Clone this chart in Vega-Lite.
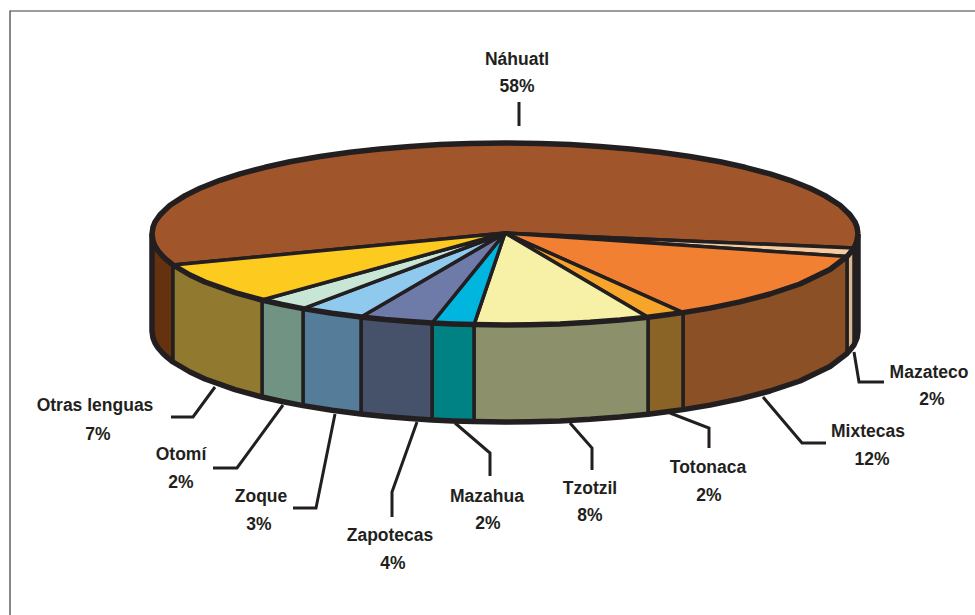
{"$schema":"https://vega.github.io/schema/vega-lite/v6.json","width":975,"height":615,"autosize":{"type":"none"},"padding":0,"background":"#ffffff","view":{"stroke":null},
"datasets":{
"formas":[
{"p":"Náhuatl lateral izq","i":0,"x":152,"y":234},{"p":"Náhuatl lateral izq","i":1,"x":155,"y":246},{"p":"Náhuatl lateral izq","i":2,"x":163,"y":256.5},{"p":"Náhuatl lateral izq","i":3,"x":173,"y":265},{"p":"Náhuatl lateral izq","i":4,"x":173,"y":362},{"p":"Náhuatl lateral izq","i":5,"x":163,"y":353.5},{"p":"Náhuatl lateral izq","i":6,"x":155,"y":343},{"p":"Náhuatl lateral izq","i":7,"x":152,"y":331},{"p":"Náhuatl lateral izq","i":8,"x":152,"y":234},
{"p":"Náhuatl lateral der","i":0,"x":858,"y":234},{"p":"Náhuatl lateral der","i":1,"x":854,"y":248},{"p":"Náhuatl lateral der","i":2,"x":854,"y":345},{"p":"Náhuatl lateral der","i":3,"x":858,"y":331},{"p":"Náhuatl lateral der","i":4,"x":858,"y":234},
{"p":"Mazateco lateral","i":0,"x":854,"y":248},{"p":"Mazateco lateral","i":1,"x":850,"y":253},{"p":"Mazateco lateral","i":2,"x":847,"y":256.5},{"p":"Mazateco lateral","i":3,"x":847,"y":353.5},{"p":"Mazateco lateral","i":4,"x":850,"y":350},{"p":"Mazateco lateral","i":5,"x":854,"y":345},{"p":"Mazateco lateral","i":6,"x":854,"y":248},
{"p":"Mixtecas lateral","i":0,"x":847,"y":256.5},{"p":"Mixtecas lateral","i":1,"x":830,"y":269.5},{"p":"Mixtecas lateral","i":2,"x":800,"y":284},{"p":"Mixtecas lateral","i":3,"x":770,"y":294},{"p":"Mixtecas lateral","i":4,"x":740,"y":301.9},{"p":"Mixtecas lateral","i":5,"x":710,"y":308.1},{"p":"Mixtecas lateral","i":6,"x":683,"y":312.6},{"p":"Mixtecas lateral","i":7,"x":683,"y":409.6},{"p":"Mixtecas lateral","i":8,"x":710,"y":405.1},{"p":"Mixtecas lateral","i":9,"x":740,"y":398.9},{"p":"Mixtecas lateral","i":10,"x":770,"y":391},{"p":"Mixtecas lateral","i":11,"x":800,"y":381},{"p":"Mixtecas lateral","i":12,"x":830,"y":366.5},{"p":"Mixtecas lateral","i":13,"x":847,"y":353.5},{"p":"Mixtecas lateral","i":14,"x":847,"y":256.5},
{"p":"Totonaca lateral","i":0,"x":683,"y":312.6},{"p":"Totonaca lateral","i":1,"x":665,"y":315.1},{"p":"Totonaca lateral","i":2,"x":648,"y":317.2},{"p":"Totonaca lateral","i":3,"x":648,"y":414.2},{"p":"Totonaca lateral","i":4,"x":665,"y":412.1},{"p":"Totonaca lateral","i":5,"x":683,"y":409.6},{"p":"Totonaca lateral","i":6,"x":683,"y":312.6},
{"p":"Tzotzil lateral","i":0,"x":648,"y":317.2},{"p":"Tzotzil lateral","i":1,"x":620,"y":320},{"p":"Tzotzil lateral","i":2,"x":590,"y":322.3},{"p":"Tzotzil lateral","i":3,"x":560,"y":323.9},{"p":"Tzotzil lateral","i":4,"x":530,"y":324.8},{"p":"Tzotzil lateral","i":5,"x":505,"y":325},{"p":"Tzotzil lateral","i":6,"x":474,"y":324.6},{"p":"Tzotzil lateral","i":7,"x":474,"y":421.6},{"p":"Tzotzil lateral","i":8,"x":505,"y":422},{"p":"Tzotzil lateral","i":9,"x":530,"y":421.8},{"p":"Tzotzil lateral","i":10,"x":560,"y":420.9},{"p":"Tzotzil lateral","i":11,"x":590,"y":419.3},{"p":"Tzotzil lateral","i":12,"x":620,"y":417},{"p":"Tzotzil lateral","i":13,"x":648,"y":414.2},{"p":"Tzotzil lateral","i":14,"x":648,"y":317.2},
{"p":"Mazahua lateral","i":0,"x":474,"y":324.6},{"p":"Mazahua lateral","i":1,"x":453,"y":324},{"p":"Mazahua lateral","i":2,"x":432,"y":323},{"p":"Mazahua lateral","i":3,"x":432,"y":420},{"p":"Mazahua lateral","i":4,"x":453,"y":421},{"p":"Mazahua lateral","i":5,"x":474,"y":421.6},{"p":"Mazahua lateral","i":6,"x":474,"y":324.6},
{"p":"Zapotecas lateral","i":0,"x":432,"y":323},{"p":"Zapotecas lateral","i":1,"x":410,"y":321.6},{"p":"Zapotecas lateral","i":2,"x":385,"y":319.6},{"p":"Zapotecas lateral","i":3,"x":361,"y":317},{"p":"Zapotecas lateral","i":4,"x":361,"y":414},{"p":"Zapotecas lateral","i":5,"x":385,"y":416.6},{"p":"Zapotecas lateral","i":6,"x":410,"y":418.6},{"p":"Zapotecas lateral","i":7,"x":432,"y":420},{"p":"Zapotecas lateral","i":8,"x":432,"y":323},
{"p":"Zoque lateral","i":0,"x":361,"y":317},{"p":"Zoque lateral","i":1,"x":332,"y":313.3},{"p":"Zoque lateral","i":2,"x":303,"y":308.6},{"p":"Zoque lateral","i":3,"x":303,"y":405.6},{"p":"Zoque lateral","i":4,"x":332,"y":410.3},{"p":"Zoque lateral","i":5,"x":361,"y":414},{"p":"Zoque lateral","i":6,"x":361,"y":317},
{"p":"Otomí lateral","i":0,"x":303,"y":308.6},{"p":"Otomí lateral","i":1,"x":282,"y":304.5},{"p":"Otomí lateral","i":2,"x":262,"y":300},{"p":"Otomí lateral","i":3,"x":262,"y":397},{"p":"Otomí lateral","i":4,"x":282,"y":401.5},{"p":"Otomí lateral","i":5,"x":303,"y":405.6},{"p":"Otomí lateral","i":6,"x":303,"y":308.6},
{"p":"Otras lateral","i":0,"x":262,"y":300},{"p":"Otras lateral","i":1,"x":235,"y":292.6},{"p":"Otras lateral","i":2,"x":205,"y":282},{"p":"Otras lateral","i":3,"x":190,"y":275},{"p":"Otras lateral","i":4,"x":173,"y":265},{"p":"Otras lateral","i":5,"x":173,"y":362},{"p":"Otras lateral","i":6,"x":190,"y":372},{"p":"Otras lateral","i":7,"x":205,"y":379},{"p":"Otras lateral","i":8,"x":235,"y":389.6},{"p":"Otras lateral","i":9,"x":262,"y":397},{"p":"Otras lateral","i":10,"x":262,"y":300},
{"p":"Náhuatl","i":0,"x":505,"y":233},{"p":"Náhuatl","i":1,"x":854,"y":248},{"p":"Náhuatl","i":2,"x":858,"y":234},{"p":"Náhuatl","i":3,"x":855,"y":222},{"p":"Náhuatl","i":4,"x":840,"y":205.3},{"p":"Náhuatl","i":5,"x":810,"y":188.2},{"p":"Náhuatl","i":6,"x":770,"y":173.9},{"p":"Náhuatl","i":7,"x":720,"y":161.8},{"p":"Náhuatl","i":8,"x":660,"y":152.2},{"p":"Náhuatl","i":9,"x":600,"y":146.4},{"p":"Náhuatl","i":10,"x":540,"y":143.4},{"p":"Náhuatl","i":11,"x":505,"y":143},{"p":"Náhuatl","i":12,"x":470,"y":143.4},{"p":"Náhuatl","i":13,"x":410,"y":146.4},{"p":"Náhuatl","i":14,"x":350,"y":152.2},{"p":"Náhuatl","i":15,"x":290,"y":161.8},{"p":"Náhuatl","i":16,"x":240,"y":173.9},{"p":"Náhuatl","i":17,"x":200,"y":188.2},{"p":"Náhuatl","i":18,"x":170,"y":205.3},{"p":"Náhuatl","i":19,"x":155,"y":222},{"p":"Náhuatl","i":20,"x":152,"y":234},{"p":"Náhuatl","i":21,"x":155,"y":246},{"p":"Náhuatl","i":22,"x":163,"y":256.5},{"p":"Náhuatl","i":23,"x":173,"y":265},{"p":"Náhuatl","i":24,"x":505,"y":233},
{"p":"Mazateco","i":0,"x":505,"y":233},{"p":"Mazateco","i":1,"x":854,"y":248},{"p":"Mazateco","i":2,"x":850,"y":253},{"p":"Mazateco","i":3,"x":847,"y":256.5},{"p":"Mazateco","i":4,"x":505,"y":233},
{"p":"Mixtecas","i":0,"x":505,"y":233},{"p":"Mixtecas","i":1,"x":847,"y":256.5},{"p":"Mixtecas","i":2,"x":830,"y":269.5},{"p":"Mixtecas","i":3,"x":800,"y":284},{"p":"Mixtecas","i":4,"x":770,"y":294},{"p":"Mixtecas","i":5,"x":740,"y":301.9},{"p":"Mixtecas","i":6,"x":710,"y":308.1},{"p":"Mixtecas","i":7,"x":683,"y":312.6},{"p":"Mixtecas","i":8,"x":505,"y":233},
{"p":"Totonaca","i":0,"x":505,"y":233},{"p":"Totonaca","i":1,"x":683,"y":312.6},{"p":"Totonaca","i":2,"x":665,"y":315.1},{"p":"Totonaca","i":3,"x":648,"y":317.2},{"p":"Totonaca","i":4,"x":505,"y":233},
{"p":"Tzotzil","i":0,"x":505,"y":233},{"p":"Tzotzil","i":1,"x":648,"y":317.2},{"p":"Tzotzil","i":2,"x":620,"y":320},{"p":"Tzotzil","i":3,"x":590,"y":322.3},{"p":"Tzotzil","i":4,"x":560,"y":323.9},{"p":"Tzotzil","i":5,"x":530,"y":324.8},{"p":"Tzotzil","i":6,"x":505,"y":325},{"p":"Tzotzil","i":7,"x":474,"y":324.6},{"p":"Tzotzil","i":8,"x":505,"y":233},
{"p":"Mazahua","i":0,"x":505,"y":233},{"p":"Mazahua","i":1,"x":474,"y":324.6},{"p":"Mazahua","i":2,"x":453,"y":324},{"p":"Mazahua","i":3,"x":432,"y":323},{"p":"Mazahua","i":4,"x":505,"y":233},
{"p":"Zapotecas","i":0,"x":505,"y":233},{"p":"Zapotecas","i":1,"x":432,"y":323},{"p":"Zapotecas","i":2,"x":410,"y":321.6},{"p":"Zapotecas","i":3,"x":385,"y":319.6},{"p":"Zapotecas","i":4,"x":361,"y":317},{"p":"Zapotecas","i":5,"x":505,"y":233},
{"p":"Zoque","i":0,"x":505,"y":233},{"p":"Zoque","i":1,"x":361,"y":317},{"p":"Zoque","i":2,"x":332,"y":313.3},{"p":"Zoque","i":3,"x":303,"y":308.6},{"p":"Zoque","i":4,"x":505,"y":233},
{"p":"Otomí","i":0,"x":505,"y":233},{"p":"Otomí","i":1,"x":303,"y":308.6},{"p":"Otomí","i":2,"x":282,"y":304.5},{"p":"Otomí","i":3,"x":262,"y":300},{"p":"Otomí","i":4,"x":505,"y":233},
{"p":"Otras lenguas","i":0,"x":505,"y":233},{"p":"Otras lenguas","i":1,"x":262,"y":300},{"p":"Otras lenguas","i":2,"x":235,"y":292.6},{"p":"Otras lenguas","i":3,"x":205,"y":282},{"p":"Otras lenguas","i":4,"x":190,"y":275},{"p":"Otras lenguas","i":5,"x":173,"y":265},{"p":"Otras lenguas","i":6,"x":505,"y":233}
],
"borde":[
{"g":"cara","i":0,"x":858,"y":234},{"g":"cara","i":1,"x":857,"y":227.1},{"g":"cara","i":2,"x":855,"y":222},{"g":"cara","i":3,"x":850,"y":214.7},{"g":"cara","i":4,"x":840,"y":205.3},{"g":"cara","i":5,"x":825,"y":195.6},{"g":"cara","i":6,"x":810,"y":188.2},{"g":"cara","i":7,"x":790,"y":180.3},{"g":"cara","i":8,"x":770,"y":173.9},{"g":"cara","i":9,"x":745,"y":167.3},{"g":"cara","i":10,"x":720,"y":161.8},{"g":"cara","i":11,"x":690,"y":156.5},{"g":"cara","i":12,"x":660,"y":152.2},{"g":"cara","i":13,"x":630,"y":148.9},{"g":"cara","i":14,"x":600,"y":146.4},{"g":"cara","i":15,"x":570,"y":144.6},{"g":"cara","i":16,"x":540,"y":143.4},{"g":"cara","i":17,"x":505,"y":143},{"g":"cara","i":18,"x":470,"y":143.4},{"g":"cara","i":19,"x":440,"y":144.6},{"g":"cara","i":20,"x":410,"y":146.4},{"g":"cara","i":21,"x":380,"y":148.9},{"g":"cara","i":22,"x":350,"y":152.2},{"g":"cara","i":23,"x":320,"y":156.5},{"g":"cara","i":24,"x":290,"y":161.8},{"g":"cara","i":25,"x":265,"y":167.3},{"g":"cara","i":26,"x":240,"y":173.9},{"g":"cara","i":27,"x":220,"y":180.3},{"g":"cara","i":28,"x":200,"y":188.2},{"g":"cara","i":29,"x":185,"y":195.6},{"g":"cara","i":30,"x":170,"y":205.3},{"g":"cara","i":31,"x":160,"y":214.7},{"g":"cara","i":32,"x":155,"y":222},{"g":"cara","i":33,"x":153,"y":227.1},{"g":"cara","i":34,"x":152,"y":234},{"g":"cara","i":35,"x":153,"y":241},{"g":"cara","i":36,"x":155,"y":246},{"g":"cara","i":37,"x":158,"y":250.7},{"g":"cara","i":38,"x":163,"y":256.5},{"g":"cara","i":39,"x":167,"y":260.2},{"g":"cara","i":40,"x":173,"y":265},{"g":"cara","i":41,"x":190,"y":275},{"g":"cara","i":42,"x":205,"y":282},{"g":"cara","i":43,"x":235,"y":292.6},{"g":"cara","i":44,"x":262,"y":300},{"g":"cara","i":45,"x":282,"y":304.5},{"g":"cara","i":46,"x":303,"y":308.6},{"g":"cara","i":47,"x":332,"y":313.3},{"g":"cara","i":48,"x":361,"y":317},{"g":"cara","i":49,"x":385,"y":319.6},{"g":"cara","i":50,"x":410,"y":321.6},{"g":"cara","i":51,"x":432,"y":323},{"g":"cara","i":52,"x":453,"y":324},{"g":"cara","i":53,"x":474,"y":324.6},{"g":"cara","i":54,"x":505,"y":325},{"g":"cara","i":55,"x":530,"y":324.8},{"g":"cara","i":56,"x":560,"y":323.9},{"g":"cara","i":57,"x":590,"y":322.3},{"g":"cara","i":58,"x":620,"y":320},{"g":"cara","i":59,"x":648,"y":317.2},{"g":"cara","i":60,"x":665,"y":315.1},{"g":"cara","i":61,"x":683,"y":312.6},{"g":"cara","i":62,"x":710,"y":308.1},{"g":"cara","i":63,"x":740,"y":301.9},{"g":"cara","i":64,"x":770,"y":294},{"g":"cara","i":65,"x":800,"y":284},{"g":"cara","i":66,"x":830,"y":269.5},{"g":"cara","i":67,"x":847,"y":256.5},{"g":"cara","i":68,"x":850,"y":253},{"g":"cara","i":69,"x":854,"y":248},{"g":"cara","i":70,"x":857,"y":241},{"g":"cara","i":71,"x":858,"y":234},
{"g":"base","i":0,"x":152,"y":234},{"g":"base","i":1,"x":152,"y":331},{"g":"base","i":2,"x":153,"y":338},{"g":"base","i":3,"x":155,"y":343},{"g":"base","i":4,"x":158,"y":347.7},{"g":"base","i":5,"x":163,"y":353.5},{"g":"base","i":6,"x":167,"y":357.2},{"g":"base","i":7,"x":173,"y":362},{"g":"base","i":8,"x":190,"y":372},{"g":"base","i":9,"x":205,"y":379},{"g":"base","i":10,"x":235,"y":389.6},{"g":"base","i":11,"x":262,"y":397},{"g":"base","i":12,"x":282,"y":401.5},{"g":"base","i":13,"x":303,"y":405.6},{"g":"base","i":14,"x":332,"y":410.3},{"g":"base","i":15,"x":361,"y":414},{"g":"base","i":16,"x":385,"y":416.6},{"g":"base","i":17,"x":410,"y":418.6},{"g":"base","i":18,"x":432,"y":420},{"g":"base","i":19,"x":453,"y":421},{"g":"base","i":20,"x":474,"y":421.6},{"g":"base","i":21,"x":505,"y":422},{"g":"base","i":22,"x":530,"y":421.8},{"g":"base","i":23,"x":560,"y":420.9},{"g":"base","i":24,"x":590,"y":419.3},{"g":"base","i":25,"x":620,"y":417},{"g":"base","i":26,"x":648,"y":414.2},{"g":"base","i":27,"x":665,"y":412.1},{"g":"base","i":28,"x":683,"y":409.6},{"g":"base","i":29,"x":710,"y":405.1},{"g":"base","i":30,"x":740,"y":398.9},{"g":"base","i":31,"x":770,"y":391},{"g":"base","i":32,"x":800,"y":381},{"g":"base","i":33,"x":830,"y":366.5},{"g":"base","i":34,"x":847,"y":353.5},{"g":"base","i":35,"x":850,"y":350},{"g":"base","i":36,"x":854,"y":345},{"g":"base","i":37,"x":857,"y":338},{"g":"base","i":38,"x":858,"y":331},{"g":"base","i":39,"x":858,"y":234}
],
"guias":[
{"g":"Náhuatl","i":0,"x":519,"y":102},{"g":"Náhuatl","i":1,"x":519,"y":126},
{"g":"Mazateco","i":0,"x":854,"y":352},{"g":"Mazateco","i":1,"x":859,"y":382},{"g":"Mazateco","i":2,"x":884,"y":382},
{"g":"Mixtecas","i":0,"x":763,"y":397},{"g":"Mixtecas","i":1,"x":802,"y":443},{"g":"Mixtecas","i":2,"x":826,"y":443},
{"g":"Totonaca","i":0,"x":670,"y":413},{"g":"Totonaca","i":1,"x":709,"y":428},{"g":"Totonaca","i":2,"x":709,"y":448},
{"g":"Tzotzil","i":0,"x":570,"y":423},{"g":"Tzotzil","i":1,"x":592,"y":448},{"g":"Tzotzil","i":2,"x":592,"y":470},
{"g":"Mazahua","i":0,"x":455,"y":423},{"g":"Mazahua","i":1,"x":490,"y":453},{"g":"Mazahua","i":2,"x":490,"y":476},
{"g":"Zapotecas","i":0,"x":417,"y":422},{"g":"Zapotecas","i":1,"x":392,"y":492},{"g":"Zapotecas","i":2,"x":392,"y":517},
{"g":"Zoque","i":0,"x":335,"y":414},{"g":"Zoque","i":1,"x":316,"y":508},{"g":"Zoque","i":2,"x":293,"y":508},
{"g":"Otomí","i":0,"x":283,"y":405},{"g":"Otomí","i":1,"x":237,"y":468},{"g":"Otomí","i":2,"x":213,"y":468},
{"g":"Otras lenguas","i":0,"x":215,"y":387},{"g":"Otras lenguas","i":1,"x":193,"y":417},{"g":"Otras lenguas","i":2,"x":171,"y":417}
],
"marco":[{"i":0,"x":10,"y":615},{"i":1,"x":10,"y":11},{"i":2,"x":975,"y":11}],
"rotulos":[
{"t":"Náhuatl","x":517,"y":60},{"t":"58%","x":517,"y":87},
{"t":"Mazateco","x":929,"y":373},{"t":"2%","x":932,"y":400},
{"t":"Mixtecas","x":868,"y":432},{"t":"12%","x":872,"y":460},
{"t":"Totonaca","x":708,"y":468},{"t":"2%","x":709,"y":496},
{"t":"Tzotzil","x":590,"y":489},{"t":"8%","x":590,"y":516},
{"t":"Mazahua","x":487,"y":497},{"t":"2%","x":488,"y":524},
{"t":"Zapotecas","x":390,"y":536},{"t":"4%","x":393,"y":564},
{"t":"Zoque","x":261,"y":497},{"t":"3%","x":259,"y":525},
{"t":"Otomí","x":181,"y":455},{"t":"2%","x":181,"y":483},
{"t":"Otras lenguas","x":95,"y":406},{"t":"7%","x":98,"y":435}
]},
"encoding":{
"x":{"field":"x","type":"quantitative","scale":{"domain":[0,975],"nice":false,"zero":false},"axis":null},
"y":{"field":"y","type":"quantitative","scale":{"domain":[615,0],"nice":false,"zero":false},"axis":null}
},
"layer":[
{"data":{"name":"marco"},"mark":{"type":"line","stroke":"#3a3a3a","strokeWidth":1.2},"encoding":{"order":{"field":"i","type":"quantitative"}}},
{"data":{"name":"formas"},"mark":{"type":"line","stroke":"#231f20","strokeWidth":3.5,"strokeJoin":"round"},"encoding":{
"fill":{"field":"p","type":"nominal","legend":null,"scale":{
"domain":["Náhuatl","Mazateco","Mixtecas","Totonaca","Tzotzil","Mazahua","Zapotecas","Zoque","Otomí","Otras lenguas","Náhuatl lateral izq","Náhuatl lateral der","Mazateco lateral","Mixtecas lateral","Totonaca lateral","Tzotzil lateral","Mazahua lateral","Zapotecas lateral","Zoque lateral","Otomí lateral","Otras lateral"],
"range":["#a0552a","#f6cba0","#f28032","#f6a52a","#f7f1a8","#00b5de","#6e7aa8","#90c9ee","#c8e6d5","#fdcb1f","#64320f","#64320f","#d9b893","#8b5026","#8a6426","#8c906b","#008285","#455269","#557d9a","#709383","#917a2f"]}},
"order":{"field":"i","type":"quantitative"}}},
{"data":{"name":"borde"},"mark":{"type":"line","stroke":"#231f20","strokeWidth":5.5,"strokeJoin":"round"},"encoding":{"detail":{"field":"g","type":"nominal"},"order":{"field":"i","type":"quantitative"}}},
{"data":{"name":"guias"},"mark":{"type":"line","stroke":"#231f20","strokeWidth":3},"encoding":{"detail":{"field":"g","type":"nominal"},"order":{"field":"i","type":"quantitative"}}},
{"data":{"name":"rotulos"},"mark":{"type":"text","font":"Liberation Sans","fontWeight":"bold","fontSize":17.5,"fill":"#231f20","align":"center","baseline":"middle"},"encoding":{"text":{"field":"t","type":"nominal"}}}
]}
